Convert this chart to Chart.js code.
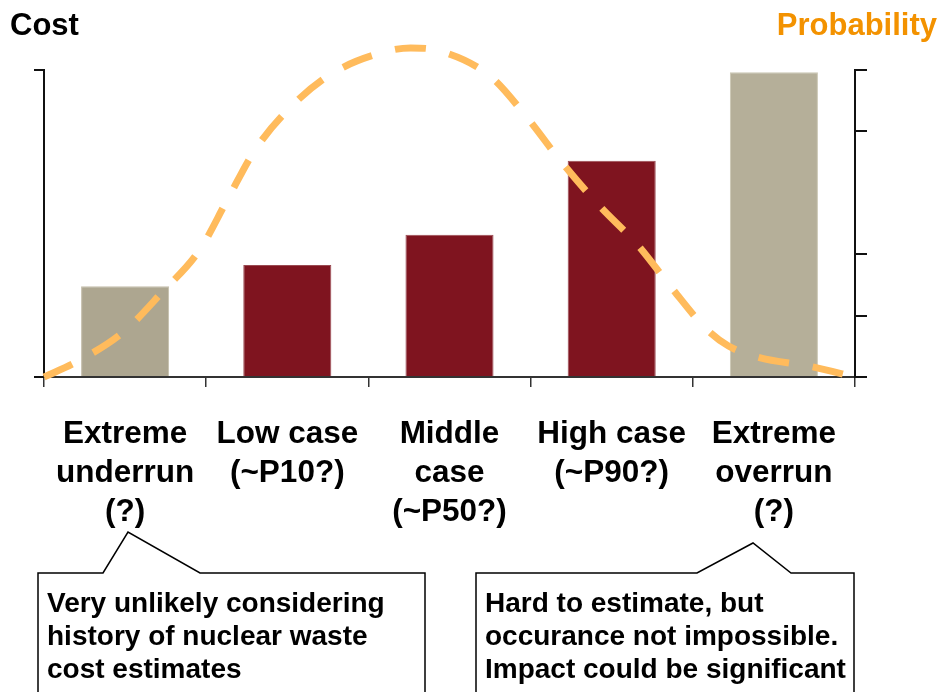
<!DOCTYPE html>
<html>
<head>
<meta charset="utf-8">
<script src="https://cdn.jsdelivr.net/npm/chart.js@4.4.1/dist/chart.umd.min.js"></script>
<style>
  body { margin: 0; background: #fff; }
  #wrap { width: 939px; height: 692px; }
</style>
</head>
<body>
<div id="wrap"><canvas id="chart" width="939" height="692"></canvas></div>
<script>
// categories and values
const categories = ['Extreme underrun (?)', 'Low case (~P10?)', 'Middle case (~P50?)', 'High case (~P90?)', 'Extreme overrun (?)'];
const labelLines = [
    ['Extreme', 'underrun', '(?)'],
    ['Low case', '(~P10?)'],
    ['Middle', 'case', '(~P50?)'],
    ['High case', '(~P90?)'],
    ['Extreme', 'overrun', '(?)']
];
const costValues = [0.296, 0.365, 0.463, 0.704, 0.993];
const barColors = ['#ADA690', '#7F141F', '#7F141F', '#7F141F', '#B5AF99'];
const barEdges = ['#C4BEAA', '#9A4A52', '#9A4A52', '#9A4A52', '#CBC6B3'];

// probability curve, x in category units (0 = left edge, 5 = right edge)
const probX = [0, 0.20, 0.49, 0.73, 0.96, 1.13, 1.30, 1.52, 1.78, 2.10, 2.26, 2.44, 2.75, 2.98, 3.18, 3.42, 3.66, 3.87, 4.09, 4.22, 4.40, 4.74, 5.0];
const probY = [0, 0.049, 0.147, 0.277, 0.414, 0.577, 0.739, 0.879, 0.990, 1.059, 1.072, 1.062, 0.980, 0.844, 0.707, 0.560, 0.430, 0.290, 0.153, 0.101, 0.065, 0.033, 0];

const costTicks = [0, 1];
const probTicks = [0, 0.2, 0.4, 0.8, 1];

const leftNote = ['Very unlikely considering', 'history of nuclear waste', 'cost estimates'];
const rightNote = ['Hard to estimate, but', 'occurance not impossible.', 'Impact could be significant'];

const FONT = '"Liberation Sans", Arial, Helvetica, sans-serif';

// titles, category labels and the two callouts
const extrasPlugin = {
    id: 'extras',
    afterDraw(chart) {
        const ctx = chart.ctx;
        const xs = chart.scales.x;
        ctx.save();
        ctx.textBaseline = 'alphabetic';

        ctx.font = 'bold 31px ' + FONT;
        ctx.fillStyle = '#000';
        ctx.textAlign = 'left';
        ctx.fillText('Cost', 10, 35);
        ctx.fillStyle = '#F39200';
        ctx.textAlign = 'right';
        ctx.fillText('Probability', 937, 35);

        ctx.font = 'bold 31.5px ' + FONT;
        ctx.fillStyle = '#000';
        ctx.textAlign = 'center';
        labelLines.forEach(function (lines, i) {
            const cx = xs.getPixelForValue(i);
            lines.forEach(function (t, k) {
                ctx.fillText(t, cx, 443 + k * 39);
            });
        });

        // callout boxes
        ctx.strokeStyle = '#000';
        ctx.lineWidth = 1.5;
        ctx.fillStyle = '#fff';
        function callout(x1, x2, top, p1, tip, tipY, p2) {
            ctx.beginPath();
            ctx.moveTo(x1, 700);
            ctx.lineTo(x1, top);
            ctx.lineTo(p1, top);
            ctx.lineTo(tip, tipY);
            ctx.lineTo(p2, top);
            ctx.lineTo(x2, top);
            ctx.lineTo(x2, 700);
            ctx.fill();
            ctx.stroke();
        }
        callout(38, 425, 573, 103, 128, 532, 200);
        callout(476, 854, 573, 697, 753, 543, 791);

        ctx.font = 'bold 28px ' + FONT;
        ctx.fillStyle = '#000';
        ctx.textAlign = 'left';
        leftNote.forEach(function (t, k) { ctx.fillText(t, 47, 612 + k * 33); });
        rightNote.forEach(function (t, k) { ctx.fillText(t, 485, 612 + k * 33); });
        ctx.restore();
    }
};

const ctx = document.getElementById('chart').getContext('2d');
const chart = new Chart(ctx, {
    data: {
        labels: categories,
        datasets: [
            {
                type: 'line',
                data: probX.map((x, i) => ({ x: x, y: probY[i] })),
                xAxisID: 'xl',
                yAxisID: 'y2',
                borderColor: '#FFBB5C',
                borderWidth: 7,
                borderDash: [31, 24],
                borderCapStyle: 'butt',
                pointRadius: 0,
                cubicInterpolationMode: 'monotone',
                fill: false,
                clip: false,
                order: 0
            },
            {
                type: 'bar',
                data: costValues,
                xAxisID: 'x',
                yAxisID: 'y',
                backgroundColor: barColors,
                borderColor: barEdges,
                borderWidth: 1,
                grouped: false,
                barPercentage: 0.543,
                categoryPercentage: 1,
                order: 1
            }
        ]
    },
    options: {
        responsive: false,
        animation: false,
        layout: { padding: { left: 34, right: 72, top: 70, bottom: 305 } },
        plugins: { legend: { display: false }, tooltip: { enabled: false } },
        scales: {
            x: {
                type: 'category',
                offset: true,
                grid: { offset: true, drawOnChartArea: false, tickLength: 10, color: '#333', lineWidth: 1.5 },
                border: { color: '#333', width: 2 },
                ticks: { display: false },
                afterFit: function (s) { s.height = 10; }
            },
            xl: {
                type: 'linear',
                min: 0,
                max: 5,
                display: false
            },
            y: {
                position: 'left',
                min: 0,
                max: 1,
                grid: { drawOnChartArea: false, tickLength: 10, color: '#111', lineWidth: 2 },
                border: { color: '#111', width: 2 },
                ticks: { display: false },
                afterBuildTicks: function (s) { s.ticks = costTicks.map(v => ({ value: v })); },
                afterFit: function (s) { s.width = 10; }
            },
            y2: {
                position: 'right',
                min: 0,
                max: 1,
                grid: { drawOnChartArea: false, tickLength: 12, color: '#111', lineWidth: 2 },
                border: { color: '#111', width: 2 },
                ticks: { display: false },
                afterBuildTicks: function (s) { s.ticks = probTicks.map(v => ({ value: v })); },
                afterFit: function (s) { s.width = 12; }
            }
        }
    },
    plugins: [extrasPlugin]
});
</script>
</body>
</html>
